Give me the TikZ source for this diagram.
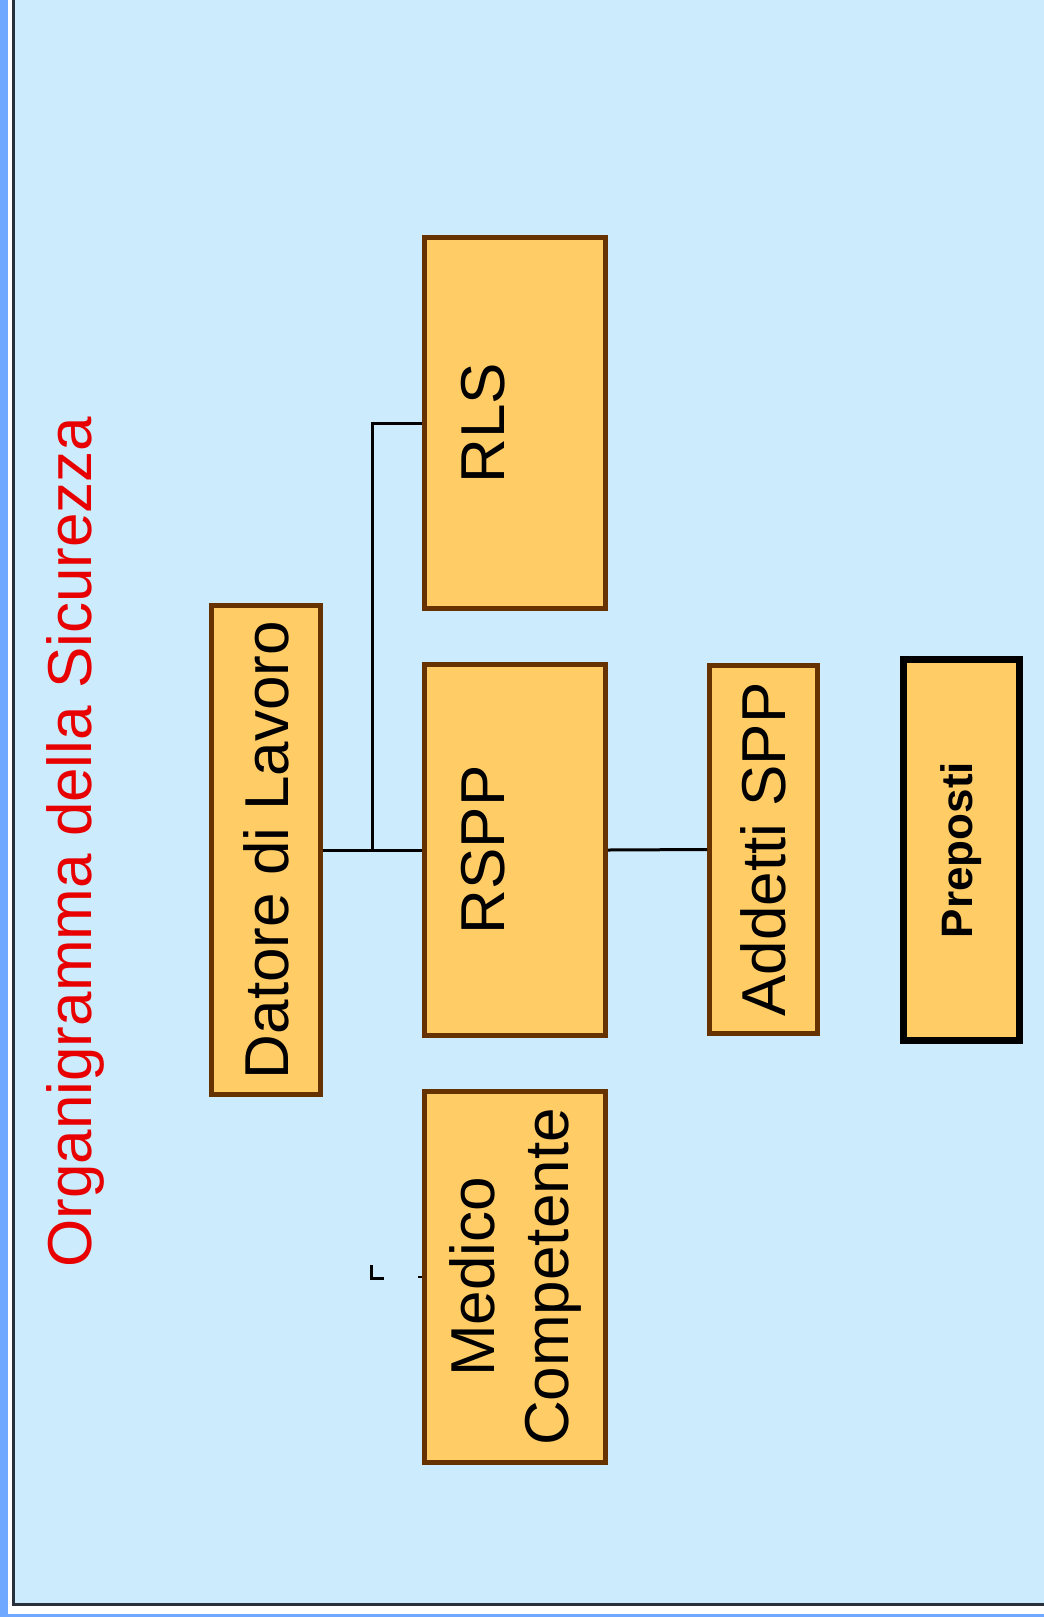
\documentclass[tikz,border=0pt]{standalone}
\usepackage{fontspec}
\setmainfont{Liberation Sans}
\usepackage{xcolor}
\usepackage{tikz}
\definecolor{bgblue}{RGB}{204,235,253}
\definecolor{frameblue}{RGB}{110,168,255}
\definecolor{framedark}{RGB}{40,48,60}
\definecolor{boxfill}{RGB}{255,204,102}
\definecolor{boxbrown}{RGB}{102,51,0}
\definecolor{titlered}{RGB}{232,0,0}

\tikzset{
  box/.style={draw=boxbrown, line width=5pt, fill=boxfill, rotate=90, inner sep=0pt,
    font=\fontsize{62}{74}\selectfont},
  topline/.style={text depth=64pt},
  link/.style={draw=black, line width=3pt}
}

\begin{document}
\begin{tikzpicture}[x=1pt, y=-1pt]
\useasboundingbox (0,0) rectangle (1044,1617);
% frame and background
\fill[white] (0,0) rectangle (1044,1617);
\fill[frameblue] (0,0) rectangle (8,1617);
\fill[frameblue] (0,1614) rectangle (1044,1617);
\fill[bgblue] (14,0) rectangle (1044,1603);
\draw[framedark, line width=3pt] (13.5,0) |- (1044,1604.5);

% title
\node[rotate=90, anchor=base, text=titlered, font=\fontsize{62}{74}\selectfont] (title) at (91,842) {Organigramma della Sicurezza};

% boxes
\node[box, minimum width=489pt, minimum height=109pt] (datore) at (266,850) {Datore di Lavoro};
\node[box, topline, minimum width=371pt, minimum height=181pt] (rls) at (515,423) {RLS};
\node[box, topline, minimum width=371pt, minimum height=181pt] (rspp) at (515,850) {RSPP};
\node[box, align=center, minimum width=371pt, minimum height=181pt] (medico) at (515,1277) {Medico\\Competente};
\node[box, minimum width=368pt, minimum height=108pt] (addetti) at (763.5,849.5) {Addetti SPP};
\node[box, draw=black, line width=7pt, minimum width=381pt, minimum height=116pt,
  font=\fontsize{44}{52}\selectfont\bfseries] (preposti) at (961.5,850) {Preposti};

% connectors
\coordinate (split) at (372,850);
\coordinate (stubtop) at (371,1265);
\coordinate (stubend) at (384,1278);
\coordinate (speck) at (418,1277);
\draw[link] (datore.south) -- (rspp.north);
\draw[link] (split) |- (rls.north);
\draw[link] (rspp.south) -- (addetti.north);
\draw[link] (stubtop) |- (stubend);
\draw[link, line width=2pt] (speck) -- (medico.north);
\end{tikzpicture}
\end{document}
